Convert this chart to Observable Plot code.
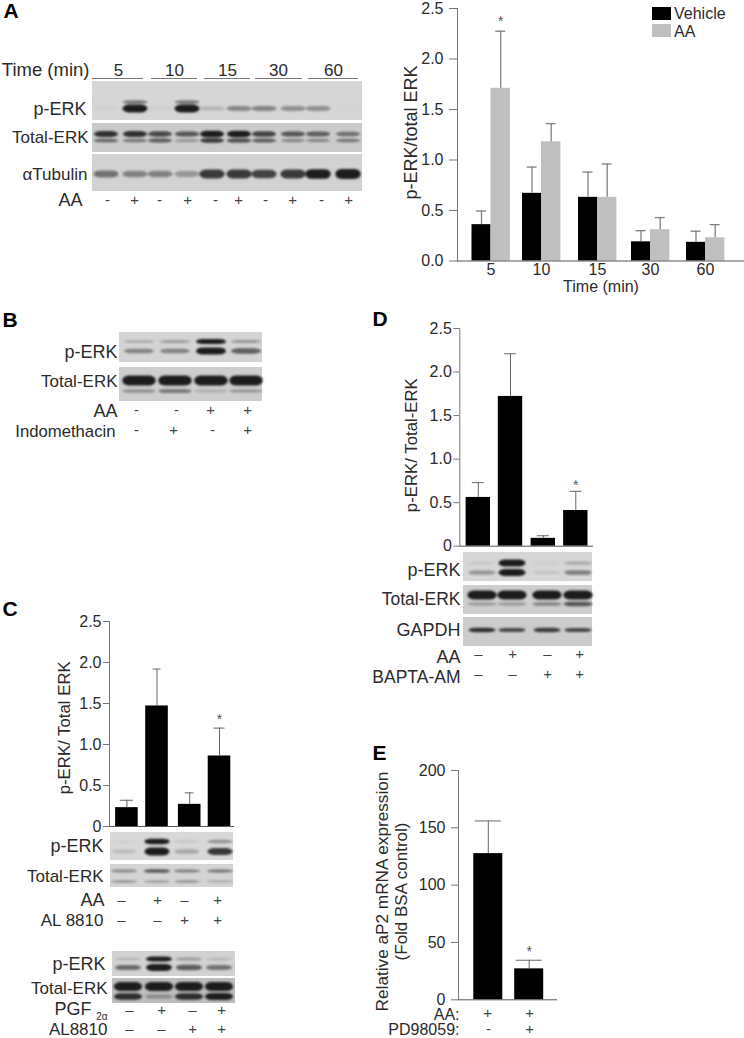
<!DOCTYPE html>
<html>
<head>
<meta charset="utf-8">
<script src="https://cdn.jsdelivr.net/npm/d3@7"></script>
<script src="https://cdn.jsdelivr.net/npm/@observablehq/plot@0.6"></script>
<style>
html,body{margin:0;padding:0;background:#fff}
#page{position:relative;width:744px;height:1038px;overflow:hidden;font-family:"Liberation Sans",Arial,sans-serif;color:#2b2b2b}
#page>svg,#page>div{position:absolute}
#page>svg{overflow:visible}
.sw{position:absolute;width:19px;height:13px}
.lg{position:absolute;font-size:16px;line-height:16px}
</style>
</head>
<body>
<div id="page"></div>
<script>
// ---------- chart values ----------
const timePoints = ["5", "10", "15", "30", "60"];
const vehicleMean = [0.36, 0.67, 0.63, 0.19, 0.185];
const vehicleTop  = [0.495, 0.93, 0.88, 0.30, 0.295];
const aaMean = [1.71, 1.18, 0.63, 0.31, 0.23];
const aaTop  = [2.275, 1.36, 0.96, 0.43, 0.36];

const cMean = [0.23, 1.47, 0.27, 0.86];
const cTop  = [0.32, 1.92, 0.41, 1.20];
const dMean = [0.56, 1.72, 0.09, 0.41];
const dTop  = [0.73, 2.21, 0.12, 0.63];
const eMean = [127.5, 27];
const eTop  = [156, 34.5];

const ratioTicks = [0, 0.5, 1, 1.5, 2, 2.5];
const foldTicks = [0, 50, 100, 150, 200];

// ---------- blot band strengths, lane by lane ----------
const aPerkUpper = [0, .55, 0, .55, 0, 0, 0, 0, 0, 0];
const aPerkLower = [.04, 1, .04, 1, .18, .4, .42, .36, .36, .02];
const aTotalUpper = [.85, .85, .7, .65, 1, 1, .75, .65, .6, .5];
const aTotalLower = [.55, .45, .6, .3, .8, .7, .6, .4, .4, .45];
const aTubulin = [.5, .42, .42, .32, .8, .8, .75, .8, .95, 1];

const bPerkUpper = [.22, .28, 1, .32];
const bPerkLower = [.42, .42, 1, .6];
const bTotalUpper = [1, 1, 1, 1];
const bTotalLower = [.32, .45, .18, .28];

const cPerkUpper = [.05, .95, .1, .35];
const cPerkLower = [.15, 1, .25, .8];
const cTotalUpper = [.4, .65, .45, .5];
const cTotalLower = [.35, .3, .35, .25];

const c2PerkUpper = [.15, 1, .3, .15];
const c2PerkLower = [.55, 1, .62, .5];
const c2TotalUpper = [1, 1, 1, 1];
const c2TotalLower = [.85, .3, .85, .95];

const dPerkUpper = [.08, 1, .05, .22];
const dPerkLower = [.35, 1, .1, .45];
const dTotalUpper = [1, 1, 1, 1];
const dTotalLower = [.3, .3, .4, .65];
const dGapdh = [.85, .72, .78, .72];

// ---------- text ----------
const aSignsAA = ["-", "+", "-", "+", "-", "+", "-", "+", "-", "+"];
const bSignsAA = ["-", "-", "+", "+"];
const bSignsIndo = ["-", "+", "-", "+"];
const altSigns = ["–", "+", "–", "+"];
const pairSigns = ["–", "–", "+", "+"];
const eSignsAA = ["+", "+"];
const eSignsPD = ["-", "+"];

// ---------- page layout, in page pixels ----------
const FONT = '"Liberation Sans", Arial, sans-serif';
const INK = "#2b2b2b", AXIS = "#777";
const page = document.getElementById("page");
const place = (node, left, top) => { node.style.left = left + "px"; node.style.top = top + "px"; page.appendChild(node); };

const panels = [], bands = [], labels = [], signs = [], rules = [], centred = [];
function blot(x1, x2, y1, y2, bg, lanes, w, rows) {
  panels.push({x1, x2, y1, y2, bg});
  for (const r of rows) r.values.forEach((v, i) => {
    const half = r.h * (0.38 + 0.62 * v) / 2;
    bands.push({x1: lanes[i] - w / 2, x2: lanes[i] + w / 2, y1: r.y - half, y2: r.y + half,
      fill: d3.interpolateRgb(bg, "#1c1c1c")(Math.min(1, v * 1.05))});
  });
}
const label = (text, x, y, size = 18) => labels.push({text, x, y, size});
const signRow = (values, xs, y, size = 15) => values.forEach((text, i) => signs.push({text, x: xs[i], y, size}));

// panel A blots
const lanesA = [106, 135, 160, 187, 212, 239, 264, 293, 318, 348];
blot(92, 362, 81, 120, "#d6d6d6", lanesA, 25, [{y: 102, h: 4, values: aPerkUpper}, {y: 108.5, h: 8, values: aPerkLower}]);
blot(92, 362, 123, 152, "#cbcbcb", lanesA, 24, [{y: 134, h: 6.5, values: aTotalUpper}, {y: 140.5, h: 5, values: aTotalLower}]);
blot(92, 362, 154, 191, "#d2d2d2", lanesA, 25, [{y: 174, h: 10, values: aTubulin}]);
label("p-ERK", 86, 109); label("Total-ERK", 88, 137, 17); label("αTubulin", 87, 174, 17); label("AA", 82, 200);
label("Time (min)", 89, 70, 18.5);
const timeCentres = [118, 174, 227, 278, 333];
timePoints.forEach((t, i) => centred.push({text: t, x: timeCentres[i], y: 70, size: 17}));
[[92, 143], [151, 197], [204, 250], [255, 302], [308, 358]].forEach(([x1, x2]) => rules.push({x1, x2, y: 78}));
signRow(aSignsAA, [107, 134, 159, 187, 215, 238, 265, 292, 321, 348], 200);

// panel B blots
const lanesB = [139, 175, 211, 246];
blot(119, 262, 332, 362, "#d4d4d4", lanesB, 30, [{y: 341.5, h: 5, values: bPerkUpper}, {y: 351, h: 7, values: bPerkLower}]);
blot(119, 262, 367, 401, "#cecece", lanesB, 33, [{y: 380.5, h: 10, values: bTotalUpper}, {y: 391, h: 6, values: bTotalLower}]);
label("p-ERK", 117, 352); label("Total-ERK", 117, 381, 17); label("AA", 117, 411); label("Indomethacin", 115, 431, 16.7);
signRow(bSignsAA, [136, 176, 210, 247], 410);
signRow(bSignsIndo, [136, 173, 212, 247], 430);

// panel C blots
const lanesC = [124, 157, 187, 220];
blot(110, 233, 832, 860, "#d8d8d8", lanesC, 25, [{y: 841.5, h: 5.5, values: cPerkUpper}, {y: 851.5, h: 8, values: cPerkLower}]);
blot(110, 233, 864, 887, "#d4d4d4", lanesC, 26, [{y: 871, h: 4.5, values: cTotalUpper}, {y: 881.5, h: 4, values: cTotalLower}]);
label("p-ERK", 103, 846); label("Total-ERK", 103, 876, 17); label("AA", 104, 900); label("AL 8810", 103, 920, 17);
signRow(altSigns, [121, 157, 184, 217], 900, 15);
signRow(pairSigns, [121, 157, 184, 217], 920, 15);

const lanesC2 = [128, 159, 189, 219];
blot(112, 235, 951, 976, "#d2d2d2", lanesC2, 26, [{y: 959, h: 5, values: c2PerkUpper}, {y: 967.5, h: 7, values: c2PerkLower}]);
blot(112, 235, 978, 1003, "#bdbdbd", lanesC2, 28, [{y: 986.5, h: 9, values: c2TotalUpper}, {y: 996.5, h: 7, values: c2TotalLower}]);
label("p-ERK", 105, 964); label("Total-ERK", 107, 988, 17); label("PGF", 91, 1009); label("AL8810", 107, 1029, 17);
labels.push({text: "2α", x: 107, y: 1016, size: 10});
signRow(altSigns, [129, 161, 192, 221], 1010, 15);
signRow(pairSigns, [129, 161, 192, 221], 1029, 15);

// panel D blots
const lanesD = [482, 512, 547, 578];
blot(463, 592, 552, 581, "#d6d6d6", lanesD, 27, [{y: 563, h: 7, values: dPerkUpper}, {y: 572.5, h: 7, values: dPerkLower}]);
blot(463, 592, 585, 614, "#cecece", lanesD, 29, [{y: 595, h: 9, values: dTotalUpper}, {y: 604, h: 5.5, values: dTotalLower}]);
blot(463, 592, 617, 646, "#cccccc", lanesD, 27, [{y: 630, h: 5, values: dGapdh}]);
label("p-ERK", 460, 570); label("Total-ERK", 460, 599, 17.5); label("GAPDH", 460, 630); label("AA", 460, 657); label("BAPTA-AM", 460, 677, 17.5);
signRow(altSigns, [478, 512, 547, 579], 654, 15);
signRow(pairSigns, [478, 512, 547, 579], 674, 15);

// panel E signs
label("AA:", 459, 1014, 16); label("PD98059:", 459, 1029, 16);
signRow(eSignsAA, [487, 529], 1013, 15);
signRow(eSignsPD, [488, 529], 1029, 15);

const letters = [
  {text: "A", x: 3, y: 11}, {text: "B", x: 2, y: 320}, {text: "C", x: 2, y: 609},
  {text: "D", x: 372, y: 319}, {text: "E", x: 372, y: 753}
];

// page plot: blots and their labels
const sheet = Plot.plot({
  width: 744, height: 1038, margin: 0,
  x: {domain: [0, 744], range: [0, 744], axis: null},
  y: {domain: [0, 1038], range: [0, 1038], axis: null},
  color: {type: "identity"},
  style: {fontFamily: FONT, fontSize: "18px", background: "transparent", color: INK},
  marks: [
    Plot.rect(panels, {x1: "x1", x2: "x2", y1: "y1", y2: "y2", fill: "bg"}),
    Plot.rect(bands, {x1: "x1", x2: "x2", y1: "y1", y2: "y2", fill: "fill", rx: 7, ry: 4}),
    Plot.ruleY(rules, {x1: "x1", x2: "x2", y: "y", stroke: "#555", strokeWidth: 0.8}),
    Plot.text(labels, {text: "text", x: "x", y: "y", fontSize: "size", textAnchor: "end", fill: INK}),
    Plot.text(centred, {text: "text", x: "x", y: "y", fontSize: "size", fill: INK}),
    Plot.text(signs, {text: "text", x: "x", y: "y", fontSize: "size", fill: "#444"}),
    Plot.text(letters, {text: "text", x: "x", y: "y", fontSize: 21, fontWeight: "bold", textAnchor: "start", fill: "#000"})
  ]
});
sheet.querySelectorAll('g[aria-label="rect"]')[1].style.filter = "blur(1px)";
place(sheet, 0, 0);

// bar charts, each with its own scales
const MT = 12;
function bars({left, axisX, right, y0, yMax, domain, ticks, format, rows, titles, tickSize = 6,
               tickPadding = 3, marginBottom = 12, cap = 5, errColor = "#666", errWidth = 1, starDy = -9, xAxis = null}) {
  const toValue = py => domain[1] * (y0 - py) / (y0 - yMax);
  const plot = Plot.plot({
    width: right - left, height: y0 - yMax + MT + marginBottom,
    marginLeft: axisX - left, marginRight: 0, marginTop: MT, marginBottom,
    x: {domain: [axisX, right], axis: xAxis ? undefined : null},
    y: {domain},
    style: {fontFamily: FONT, fontSize: "16px", background: "transparent", color: INK},
    marks: [
      Plot.rect(rows, {x1: d => d.c - d.w / 2, x2: d => d.c + d.w / 2, y1: 0, y2: "mean", fill: d => d.fill}),
      Plot.ruleX(rows, {x: d => d.c, y1: "mean", y2: "top", stroke: errColor, strokeWidth: errWidth}),
      Plot.ruleY(rows, {y: "top", x1: d => d.c - (d.cap ?? cap), x2: d => d.c + (d.cap ?? cap), stroke: errColor, strokeWidth: errWidth}),
      Plot.frame({anchor: "left", stroke: AXIS}),
      Plot.frame({anchor: "bottom", stroke: "#555"}),
      Plot.axisY({ticks, tickSize, tickPadding, tickFormat: format, stroke: AXIS, fill: INK, label: null}),
      ...(xAxis ? [Plot.axisX(xAxis)] : []),
      Plot.text(titles, {text: "text", x: "x", y: d => toValue(d.y), fontSize: "size", rotate: -90, fill: INK}),
      Plot.text(rows.filter(d => d.star), {text: () => "*", x: "c", y: "top", dy: starDy, fontSize: 14, fill: "#555"})
    ]
  });
  place(plot, left, yMax - MT);
}
const zeroPlain = d => d === 0 ? "0" : d3.format(".1f")(d);
const series = (means, tops, centres, w, fill, stars = []) =>
  means.map((mean, i) => ({mean, top: tops[i], c: centres[i], w, fill, star: stars.includes(i)}));

// A
const groupCentres = [490.5, 541, 597, 650, 705];
const rowsA = [
  ...series(vehicleMean, vehicleTop, groupCentres.map(c => c - 9.5), 19, "#000"),
  ...series(aaMean, aaTop, groupCentres.map(c => c + 9.7), 19.4, "#bfbfbf", [0])
];
bars({left: 395, axisX: 457, right: 744, y0: 260.5, yMax: 8, domain: [0, 2.5], ticks: ratioTicks,
  format: d3.format(".1f"), rows: rowsA, titles: [{text: "p-ERK/total ERK", x: 411, y: 132, size: 18}],
  tickSize: 8, tickPadding: 6, marginBottom: 38, errColor: "#808080", errWidth: 1.3, starDy: -10,
  xAxis: {ticks: groupCentres, tickSize: 0, tickPadding: 3, tickFormat: c => timePoints[groupCentres.indexOf(c)],
    label: "Time (min)", labelAnchor: "center", labelArrow: "none", labelOffset: 31, fill: INK}});

// C
const rowsC = series(cMean, cTop, [126.4, 156.5, 189.2, 219], 22.6, "#000", [3]);
rowsC[0].cap = 6.5; rowsC[3].cap = 5.5; rowsC[1].cap = 4; rowsC[2].cap = 4.4;
bars({left: 50, axisX: 109, right: 233, y0: 825.7, yMax: 620.7, domain: [0, 2.5], ticks: ratioTicks, format: zeroPlain,
  rows: rowsC, titles: [{text: "p-ERK/ Total ERK", x: 64, y: 727, size: 16.8}], tickPadding: 2, starDy: -9});

// D
const rowsD = series(dMean, dTop, [477.8, 510, 542.8, 575.3], 24.4, "#000", [3]);
bars({left: 395, axisX: 459.3, right: 592, y0: 546, yMax: 328.3, domain: [0, 2.5], ticks: ratioTicks, format: zeroPlain,
  rows: rowsD, titles: [{text: "p-ERK/ Total-ERK", x: 410.7, y: 445, size: 16.8}], tickPadding: 2, cap: 6, starDy: -6});

// E
const rowsE = series(eMean, eTop, [487.8, 528.7], 29, "#000", [1]);
bars({left: 370, axisX: 458, right: 556, y0: 999.3, yMax: 770, domain: [0, 200], ticks: foldTicks, format: d3.format("d"),
  rows: rowsE, titles: [
    {text: "Relative aP2 mRNA expression", x: 382, y: 891, size: 17.2},
    {text: "(Fold BSA control)", x: 400.7, y: 891, size: 17}
  ], tickSize: 7, tickPadding: 6, marginBottom: 30, cap: 13, starDy: -9});

// legend
[["Vehicle", "#000", 7, 6.3], ["AA", "#bfbfbf", 23.5, 24.3]].forEach(([name, fill, top, textTop]) => {
  const s = document.createElement("div"); s.className = "sw"; s.style.cssText = `left:652px;top:${top}px;background:${fill}`; page.appendChild(s);
  const t = document.createElement("div"); t.className = "lg"; t.textContent = name; t.style.cssText = `left:674px;top:${textTop}px`; page.appendChild(t);
});
</script>
</body>
</html>
